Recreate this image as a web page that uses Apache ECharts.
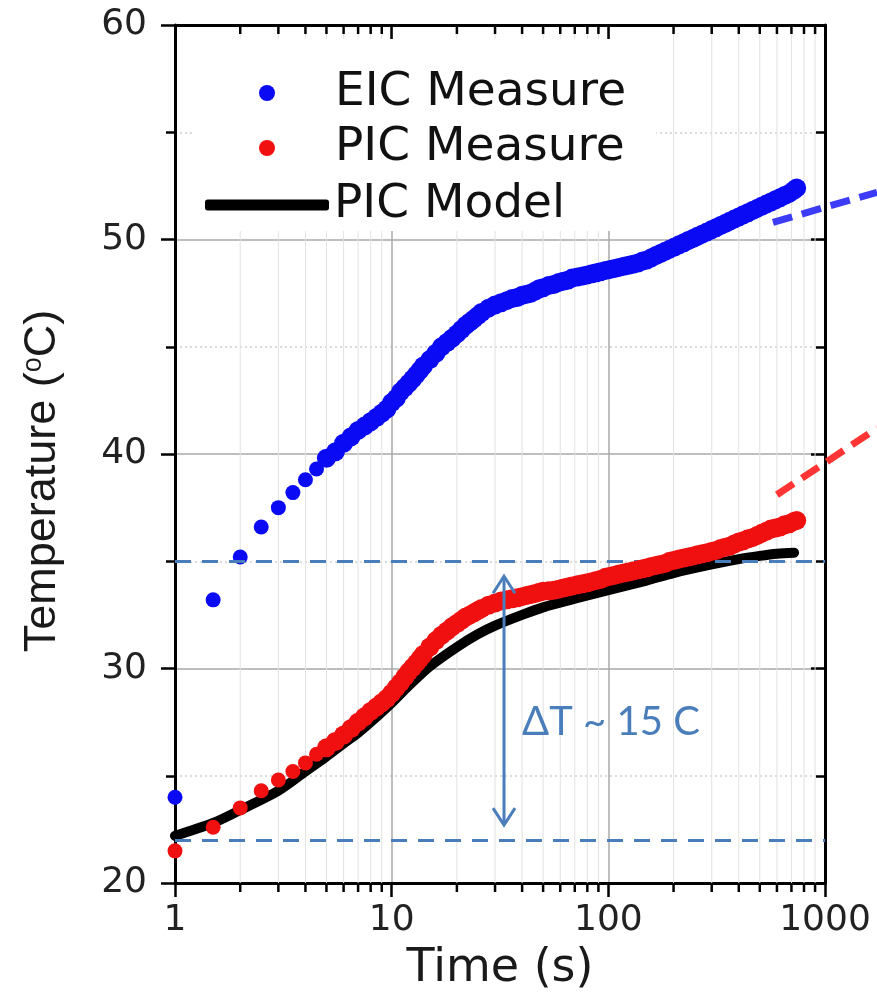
<!DOCTYPE html>
<html>
<head>
<meta charset="utf-8">
<script src="https://cdn.jsdelivr.net/npm/echarts@6/dist/echarts.min.js"></script>
<style>
  html, body { margin: 0; padding: 0; background: #fff; }
  #chart { width: 877px; height: 1003px; }
</style>
</head>
<body>
<div id="chart"></div>
<script>
// sample times (s) shared by both measurements
var measureTimes = [1, 1.5, 2, 2.5, 3, 3.5, 4, 4.5,
  5, 5.5, 6, 6.5, 7, 7.5, 8, 8.5, 9, 9.5, 10, 10.5, 11, 11.5, 12, 12.5, 13, 13.5, 14,
  15, 16, 17, 18, 19, 20, 21, 22, 23, 24, 25, 26,
  28, 30, 32, 34, 36, 38, 40, 42, 44, 46, 48, 50,
  53, 56, 59, 62, 65, 68, 72, 76, 80, 84, 88, 92, 97, 102, 107, 112,
  118, 124, 130, 137, 144, 151, 158, 166, 174, 183, 192, 202, 212, 223, 234, 246, 258, 271, 285, 299,
  314, 330, 346, 363, 381, 400, 420, 441, 463, 486, 510, 536, 563, 591, 620, 651, 684, 718, 740];

var eicMeasure = [24.0, 33.2, 35.2, 36.6, 37.5, 38.2, 38.8, 39.3,
  39.8, 40.1, 40.5, 40.8, 41.1, 41.3, 41.5, 41.7, 41.9, 42.1, 42.4, 42.6, 42.9, 43.1, 43.3, 43.5, 43.7, 43.9, 44.1,
  44.4, 44.7, 45.0, 45.2, 45.4, 45.6, 45.8, 46.0, 46.15, 46.3, 46.45, 46.6,
  46.8, 46.95, 47.05, 47.15, 47.25, 47.3, 47.4, 47.45, 47.5, 47.6, 47.7, 47.75,
  47.85, 47.9, 48.0, 48.05, 48.1, 48.2, 48.25, 48.3, 48.35, 48.4, 48.45, 48.5, 48.55, 48.6, 48.65, 48.7,
  48.75, 48.8, 48.85, 48.9, 49.0, 49.05, 49.15, 49.25, 49.35, 49.45, 49.55, 49.65, 49.75, 49.85, 49.95, 50.05, 50.15, 50.25, 50.35, 50.45,
  50.55, 50.65, 50.75, 50.85, 50.95, 51.05, 51.15, 51.25, 51.35, 51.45, 51.55, 51.65, 51.75, 51.85, 51.95, 52.05, 52.15, 52.3, 52.4];

var picMeasure = [21.5, 22.6, 23.5, 24.3, 24.8, 25.2, 25.6, 26.0,
  26.3, 26.6, 26.9, 27.2, 27.5, 27.75, 28.0, 28.2, 28.4, 28.6, 28.85, 29.1, 29.35, 29.6, 29.85, 30.05, 30.25, 30.45, 30.65,
  31.0, 31.3, 31.55, 31.75, 31.95, 32.1, 32.25, 32.4, 32.5, 32.6, 32.7, 32.8,
  32.95, 33.05, 33.15, 33.2, 33.25, 33.3, 33.35, 33.4, 33.45, 33.5, 33.55, 33.6,
  33.62, 33.65, 33.7, 33.75, 33.8, 33.85, 33.9, 33.95, 34.0, 34.05, 34.1, 34.15, 34.25, 34.3, 34.35, 34.4,
  34.45, 34.5, 34.55, 34.6, 34.65, 34.7, 34.75, 34.8, 34.85, 34.9, 35.0, 35.05, 35.1, 35.15, 35.2, 35.25, 35.3, 35.35, 35.4, 35.45,
  35.5, 35.6, 35.65, 35.7, 35.8, 35.9, 35.95, 36.05, 36.1, 36.2, 36.3, 36.4, 36.5, 36.55, 36.6, 36.7, 36.75, 36.85, 36.9];

var modelTimes = [1, 1.5, 2, 3, 4, 5, 6, 7, 8, 10, 12, 15, 20, 25, 30, 40, 50, 70, 100, 150, 200, 300, 400, 500, 600, 720];
var picModel = [22.2, 22.8, 23.4, 24.3, 25.2, 25.9, 26.5, 27.0, 27.5, 28.4, 29.2, 30.1, 31.0, 31.6, 32.0, 32.5, 32.85, 33.25, 33.65, 34.1, 34.45, 34.85, 35.1, 35.25, 35.35, 35.4];

var xMinor = [2, 3, 4, 5, 6, 7, 8, 9, 20, 30, 40, 50, 60, 70, 80, 90, 200, 300, 400, 500, 600, 700, 800, 900];
var yMin = 20, yMax = 60, yStep = 10;

// annotation: reference levels, ΔT arrow and text, off-plot callouts
var refLevels = [35, 22];
var arrowAt = [33, 34.3, 22.7];           // time, top value, bottom value
var deltaText = 'ΔT ~ 15 C';
var deltaTextAt = [40, 27.5];
var blueCallout = [[575, 50.8], [1738, 52.2]];
var redCallout = [[600, 38.1], [1738, 41.2]];

function zip(a, b) {
  return a.map(function (v, i) { return [v, b[i]]; });
}

var chart = echarts.init(document.getElementById('chart'));
var FONT = '"DejaVu Sans", Verdana, sans-serif';
var FONT_V = '"Liberation Sans", Arial, sans-serif';
var annoColor = '#4a7ebb';
var dotSize = function (val) { return val[0] < 5 ? 15 : 19; };

chart.setOption({
  backgroundColor: '#fff',
  animation: false,
  grid: { left: 175, right: 52, top: 25, bottom: 120 },
  legend: [{
    orient: 'vertical',
    left: 195, top: 39,
    padding: [30, 30, 9, 64],
    backgroundColor: '#fff',
    itemWidth: 16, itemHeight: 16, itemGap: 7,
    icon: 'circle',
    textStyle: { fontFamily: FONT, fontSize: 47, color: '#111', lineHeight: 48, padding: [0, 0, 0, 55] },
    data: ['EIC Measure', 'PIC Measure']
  }, {
    orient: 'vertical',
    left: 195, top: 181,
    padding: [0, 95, 2, 10],
    backgroundColor: '#fff',
    itemWidth: 124, itemHeight: 11,
    textStyle: { fontFamily: FONT, fontSize: 47, color: '#111', lineHeight: 48 },
    data: [{ name: 'PIC Model', icon: 'roundRect' }]
  }],
  xAxis: [{
    type: 'log', logBase: 10, min: 1, max: 1000,
    name: 'Time (s)', nameLocation: 'middle', nameGap: 63,
    nameTextStyle: { fontFamily: FONT, fontSize: 46, color: '#1a1a1a' },
    axisLine: { lineStyle: { color: '#000', width: 3 } },
    axisTick: { length: 14, lineStyle: { color: '#000', width: 2.5 } },
    axisLabel: {
      fontFamily: FONT, fontSize: 36, color: '#222', margin: 20,
      formatter: function (v) { return String(Math.round(v)); }
    },
    splitLine: { show: true, lineStyle: { color: '#a8a8a8', width: 1.5 } }
  }, {
    type: 'log', logBase: 10, min: 1, max: 1000, position: 'top',
    axisLine: { lineStyle: { color: '#000', width: 3 } },
    axisTick: { inside: true, length: 14, lineStyle: { color: '#000', width: 2.5 } },
    axisLabel: { show: false },
    splitLine: { show: false }
  }],
  yAxis: [{
    type: 'value', min: yMin, max: yMax, interval: yStep,
    name: 'Temperature ({sup|o}C)', nameLocation: 'middle', nameGap: 110, nameRotate: 90,
    nameTextStyle: {
      fontFamily: FONT_V, fontSize: 45, color: '#1a1a1a', padding: [0, 54, 0, 0],
      rich: { sup: { fontFamily: FONT_V, fontSize: 27, color: '#1a1a1a', verticalAlign: 'top', lineHeight: 45 } }
    },
    axisLine: { show: true, lineStyle: { color: '#000', width: 3 } },
    axisTick: { show: true, length: 14, lineStyle: { color: '#000', width: 2.5 } },
    minorTick: { show: true, splitNumber: 2, length: 9, lineStyle: { color: '#000', width: 2.5 } },
    axisLabel: { fontFamily: FONT, fontSize: 36, color: '#222', margin: 28 },
    splitLine: { show: true, lineStyle: { color: '#a8a8a8', width: 1.5 } },
    minorSplitLine: { show: true, lineStyle: { color: '#cfcfcf', width: 1.5, type: [2, 3] } }
  }, {
    type: 'value', min: yMin, max: yMax, interval: yStep, position: 'right',
    axisLine: { show: true, lineStyle: { color: '#000', width: 3 } },
    axisTick: { show: true, inside: true, length: 14, lineStyle: { color: '#000', width: 2.5 } },
    minorTick: { show: true, splitNumber: 2, length: 9, lineStyle: { color: '#000', width: 2.5 } },
    axisLabel: { show: false },
    splitLine: { show: false }
  }],
  series: [{
    // minor log grid lines and ticks
    type: 'custom', silent: true, z: 1, clip: false,
    data: xMinor.map(function (v) { return [v, yMin]; }),
    renderItem: function (params, api) {
      var v = api.value(0);
      var b = api.coord([v, yMin]);
      var t = api.coord([v, yMax]);
      return {
        type: 'group', children: [
          { type: 'line', shape: { x1: b[0], y1: b[1], x2: t[0], y2: t[1] }, style: { stroke: '#e2e2e2', lineWidth: 1 } },
          { type: 'line', shape: { x1: b[0], y1: b[1], x2: b[0], y2: b[1] + 9 }, style: { stroke: '#000', lineWidth: 2.5 } },
          { type: 'line', shape: { x1: t[0], y1: t[1], x2: t[0], y2: t[1] + 9 }, style: { stroke: '#000', lineWidth: 2.5 } }
        ]
      };
    }
  }, {
    name: 'EIC Measure', type: 'scatter',
    data: zip(measureTimes, eicMeasure),
    symbolSize: dotSize,
    itemStyle: { color: '#0a0af5', opacity: 1 },
    z: 3
  }, {
    name: 'PIC Model', type: 'line',
    data: zip(modelTimes, picModel),
    showSymbol: false, symbol: 'none', smooth: 0.3,
    itemStyle: { color: '#000' },
    lineStyle: { color: '#000', width: 10, cap: 'round', join: 'round' },
    z: 4,
    markLine: {
      silent: true, symbol: 'none',
      label: { show: false },
      lineStyle: { color: annoColor, width: 3, type: [16, 11] },
      data: refLevels.map(function (v) { return { yAxis: v }; })
    }
  }, {
    name: 'PIC Measure', type: 'scatter',
    data: zip(measureTimes, picMeasure),
    symbolSize: dotSize,
    itemStyle: { color: '#f01010', opacity: 1 },
    z: 5
  }, {
    // ΔT arrow and label
    type: 'custom', silent: true, z: 6, clip: false,
    data: [arrowAt],
    renderItem: function (params, api) {
      var p1 = api.coord([arrowAt[0], arrowAt[1]]);
      var p2 = api.coord([arrowAt[0], arrowAt[2]]);
      var tp = api.coord(deltaTextAt);
      var st = { stroke: annoColor, lineWidth: 3, fill: null };
      return {
        type: 'group', children: [
          { type: 'line', shape: { x1: p1[0], y1: p1[1], x2: p2[0], y2: p2[1] }, style: st },
          { type: 'polyline', shape: { points: [[p1[0] - 11, p1[1] + 17], [p1[0], p1[1]], [p1[0] + 11, p1[1] + 17]] }, style: st },
          { type: 'polyline', shape: { points: [[p2[0] - 11, p2[1] - 17], [p2[0], p2[1]], [p2[0] + 11, p2[1] - 17]] }, style: st },
          { type: 'text', x: tp[0], y: tp[1], style: {
              text: deltaText, fill: annoColor, fontFamily: 'Lato, "Open Sans", sans-serif',
              fontSize: 40, align: 'left', verticalAlign: 'middle' } }
        ]
      };
    }
  }, {
    // callout lines leaving the plot on the right
    type: 'custom', silent: true, z: 6, clip: false,
    data: [blueCallout[0], redCallout[0]],
    renderItem: function (params, api) {
      var seg = params.dataIndex === 0 ? blueCallout : redCallout;
      var a = api.coord(seg[0]);
      var b = api.coord(seg[1]);
      return {
        type: 'line',
        shape: { x1: a[0], y1: a[1], x2: b[0], y2: b[1] },
        style: { stroke: params.dataIndex === 0 ? '#3c3cf8' : '#ff3535', lineWidth: 7, lineDash: [20, 10] }
      };
    }
  }]
});
</script>
</body>
</html>
